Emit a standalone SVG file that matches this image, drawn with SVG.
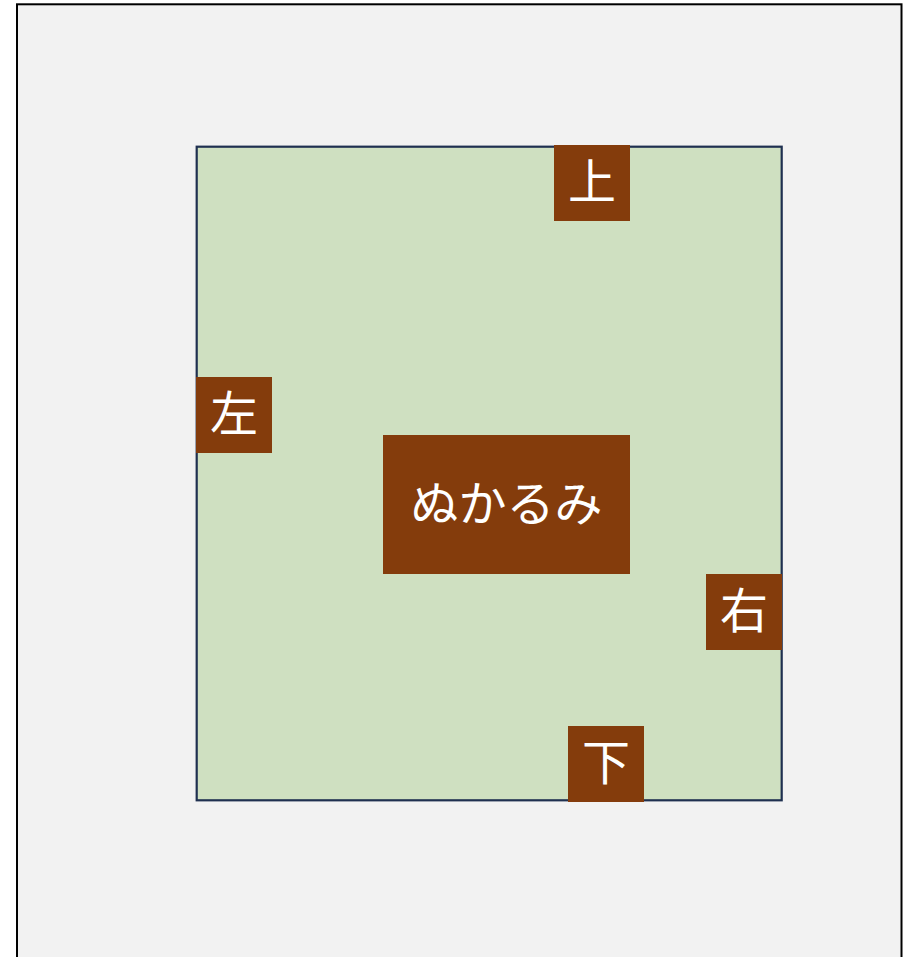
<svg xmlns="http://www.w3.org/2000/svg" width="905" height="957" viewBox="0 0 905 957">
<style>
.lbl{fill:#843c0c}
.t{fill:#ffffff;font-family:"Noto Sans CJK JP","Noto Sans CJK SC",sans-serif;font-size:48px;text-anchor:middle;dominant-baseline:central}
</style>
<rect x="0" y="0" width="905" height="957" fill="#ffffff"/>
<rect id="frame" x="17" y="4.3" width="884.5" height="970" fill="#f2f2f2" stroke="#000000" stroke-width="2"/>
<g id="field">
<rect x="196.7" y="146.7" width="585" height="653.6" fill="#cfe0c1" stroke="#1f3050" stroke-width="2.2"/>
</g>
<g id="connectors"></g>
<g id="center">
<rect class="lbl" x="383" y="435" width="247" height="139"/>
<text class="t" x="506.5" y="500">ぬかるみ</text>
</g>
<g id="up">
<rect class="lbl" x="554" y="145" width="76" height="76"/>
<text class="t" x="592" y="178">上</text>
</g>
<g id="left">
<rect class="lbl" x="196" y="377" width="76" height="76"/>
<text class="t" x="234" y="410">左</text>
</g>
<g id="right">
<rect class="lbl" x="706" y="574" width="76" height="76"/>
<text class="t" x="744" y="607">右</text>
</g>
<g id="down">
<rect class="lbl" x="568" y="726" width="76" height="76"/>
<text class="t" x="606" y="759">下</text>
</g>
</svg>
